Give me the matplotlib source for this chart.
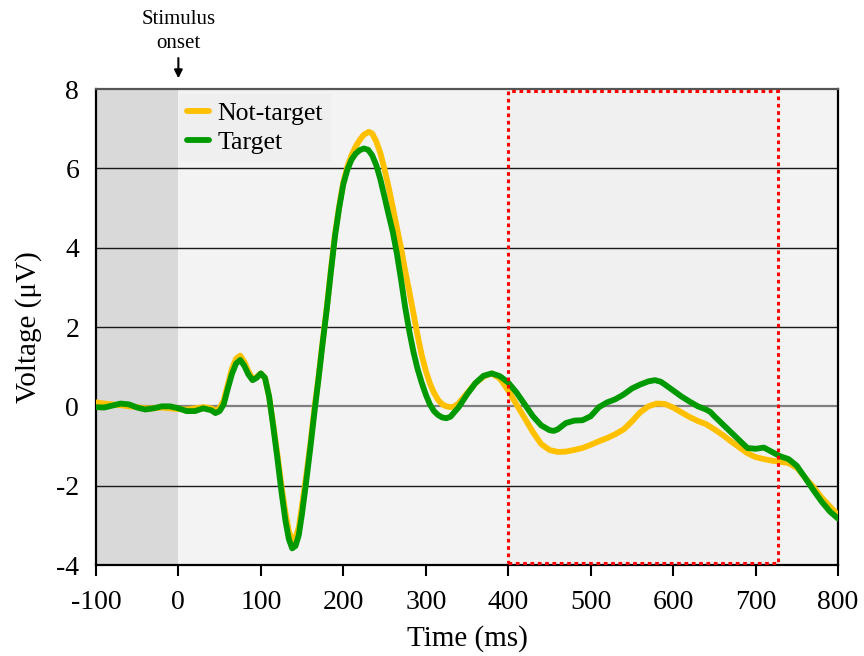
import matplotlib
matplotlib.use("Agg")
import matplotlib.pyplot as plt
from matplotlib.patches import Rectangle

plt.rcParams['font.family'] = ['Liberation Serif', 'DejaVu Serif']

# Target (green)
t_target = [-100, -90, -80, -70, -60, -50, -40, -30, -20, -10, 0, 10, 20, 30, 40, 45, 50, 55, 60, 65, 70, 75, 80, 85, 90, 95,
            100, 105, 110, 115, 120, 125, 130, 134, 138, 142, 146, 150, 155, 160, 165, 170, 175, 180, 185, 190, 195, 200,
            205, 210, 215, 220, 225, 230, 235, 240, 245, 250, 255, 260, 265, 270, 275, 280, 285, 290, 295, 300, 305, 310,
            315, 320, 325, 330, 340, 350, 360, 370, 380, 390, 400, 410, 420, 430, 440, 450, 455, 460, 470, 480, 490, 500,
            510, 520, 530, 540, 550, 560, 570, 578, 585, 590, 600, 610, 620, 630, 640, 645, 650, 660, 670, 680, 690, 700,
            710, 720, 730, 740, 750, 760, 770, 780, 790, 800]
v_target = [-0.02, -0.03, 0.02, 0.07, 0.05, -0.03, -0.08, -0.05, 0.0, 0.0, -0.05, -0.12, -0.12, -0.05, -0.1, -0.17, -0.12,
            0.05, 0.45, 0.82, 1.08, 1.17, 1.02, 0.8, 0.66, 0.72, 0.83, 0.72, 0.25, -0.5, -1.3, -2.15, -2.9, -3.35, -3.58,
            -3.52, -3.25, -2.7, -1.9, -1.05, -0.15, 0.7, 1.6, 2.45, 3.4, 4.3, 5.0, 5.6, 5.97, 6.22, 6.37, 6.46, 6.5, 6.47,
            6.33, 6.08, 5.72, 5.28, 4.83, 4.4, 3.85, 3.2, 2.5, 1.9, 1.38, 0.95, 0.6, 0.3, 0.05, -0.12, -0.22, -0.28, -0.3,
            -0.26, -0.02, 0.3, 0.58, 0.77, 0.83, 0.76, 0.6, 0.35, 0.05, -0.25, -0.48, -0.6, -0.62, -0.58, -0.42, -0.36,
            -0.35, -0.25, -0.02, 0.1, 0.18, 0.3, 0.45, 0.55, 0.63, 0.66, 0.62, 0.55, 0.4, 0.25, 0.12, 0.0, -0.08, -0.14,
            -0.25, -0.45, -0.65, -0.85, -1.05, -1.07, -1.04, -1.15, -1.26, -1.33, -1.5, -1.8, -2.11, -2.4, -2.65, -2.83]

# Not-target (yellow)
t_nontarget = [-100, -90, -80, -70, -60, -50, -40, -30, -20, -10, 0, 10, 20, 30, 40, 45, 50, 55, 60, 65, 70, 75, 80, 85, 90,
               95, 100, 105, 110, 115, 120, 125, 130, 134, 138, 142, 146, 150, 155, 160, 165, 170, 175, 180, 185, 190, 195,
               200, 205, 210, 215, 220, 225, 231, 235, 240, 245, 250, 255, 260, 265, 270, 275, 280, 285, 290, 295, 300, 305,
               310, 315, 320, 325, 330, 335, 340, 350, 360, 370, 380, 390, 400, 410, 420, 430, 440, 450, 460, 470, 480, 490,
               500, 510, 520, 530, 540, 550, 560, 570, 580, 590, 600, 610, 620, 630, 640, 650, 660, 670, 680, 690, 700, 710,
               720, 730, 740, 750, 760, 770, 780, 790, 800]
v_nontarget = [0.1, 0.07, 0.05, 0.03, 0.0, -0.02, -0.05, -0.05, -0.03, -0.05, -0.07, -0.08, -0.05, -0.02, -0.05, -0.1, -0.05,
               0.15, 0.55, 0.95, 1.2, 1.28, 1.12, 0.88, 0.7, 0.74, 0.83, 0.72, 0.25, -0.45, -1.2, -2.0, -2.7, -3.15, -3.38,
               -3.32, -3.05, -2.5, -1.75, -0.95, -0.05, 0.75, 1.65, 2.5, 3.45, 4.35, 5.05, 5.65, 6.05, 6.33, 6.55, 6.72, 6.85,
               6.92, 6.88, 6.68, 6.38, 5.98, 5.52, 5.02, 4.5, 4.0, 3.42, 2.9, 2.35, 1.8, 1.3, 0.9, 0.58, 0.34, 0.16, 0.05,
               0.0, -0.02, 0.0, 0.08, 0.33, 0.58, 0.75, 0.83, 0.7, 0.4, 0.05, -0.3, -0.65, -0.95, -1.1, -1.15, -1.14, -1.1,
               -1.05, -0.97, -0.88, -0.8, -0.7, -0.58, -0.38, -0.15, 0.0, 0.07, 0.06, -0.03, -0.15, -0.27, -0.37, -0.45,
               -0.58, -0.72, -0.88, -1.03, -1.18, -1.28, -1.33, -1.37, -1.4, -1.43, -1.55, -1.8, -2.03, -2.3, -2.52, -2.74]

x_ticks = [-100, 0, 100, 200, 300, 400, 500, 600, 700, 800]
y_ticks = [-4, -2, 0, 2, 4, 6, 8]
baseline_window = (-100, 0)
roi_window = (400, 727)
roi_volt = (-3.95, 7.95)

fig = plt.figure(figsize=(8.64, 6.56), dpi=100)
ax = fig.add_axes([0.111, 0.1387, 0.859, 0.7256])
ax.set_facecolor('#f3f3f3')
ax.set_xlim(-100, 800)
ax.set_ylim(-4, 8)

ax.axvspan(baseline_window[0], baseline_window[1], color='#d9d9d9', zorder=0, lw=0)
ax.add_patch(Rectangle((roi_window[0], roi_volt[0]), roi_window[1] - roi_window[0], roi_volt[1] - roi_volt[0],
                       facecolor='#f0f0f0', edgecolor='none', zorder=0.5))

for y in y_ticks:
    if y == 0:
        ax.axhline(y, color='#7f7f7f', lw=1.6, zorder=1)
    elif y in (-4, 8):
        continue
    else:
        ax.axhline(y, color='#1a1a1a', lw=1.0, zorder=1)

ax.add_patch(Rectangle((roi_window[0], roi_volt[0]), roi_window[1] - roi_window[0], roi_volt[1] - roi_volt[0],
                       facecolor='none', edgecolor='#ff0000', lw=2.2, linestyle=(0, (1.2, 1.2)), zorder=4))

ax.plot(t_nontarget, v_nontarget, color='#ffc000', lw=4.2, label='Not-target', zorder=3,
        solid_joinstyle='round', solid_capstyle='round')
ax.plot(t_target, v_target, color='#009900', lw=4.2, label='Target', zorder=3.5,
        solid_joinstyle='round', solid_capstyle='round')

ax.set_xticks(x_ticks)
ax.set_yticks(y_ticks)
ax.tick_params(axis='x', direction='out', length=8, width=1.5, labelsize=20, pad=10, colors='black')
ax.tick_params(axis='y', length=0, labelsize=20, pad=12)
ax.set_xticklabels([str(v) for v in x_ticks])
ax.set_yticklabels([str(v) for v in y_ticks])

for side in ['left', 'bottom', 'right']:
    ax.spines[side].set_color('black')
    ax.spines[side].set_linewidth(1.6)
ax.spines['top'].set_color('#555555')
ax.spines['top'].set_linewidth(1.6)

ax.set_xlabel('Time (ms)', fontsize=21, labelpad=7)
ax.set_ylabel('Voltage (\u03bcV)', fontsize=21, labelpad=10)

leg = ax.legend(loc='upper left', bbox_to_anchor=(0.105, 1.0), fontsize=18.5, frameon=True,
                facecolor='#efefef', edgecolor='none', framealpha=1, handlelength=0.85, handletextpad=0.35,
                borderpad=0.3, labelspacing=0.25, borderaxespad=0.2)
leg.get_frame().set_boxstyle('square', pad=0)

ax.annotate('', xy=(0, 8.2), xytext=(0, 8.85), xycoords='data', textcoords='data',
            arrowprops=dict(arrowstyle='-|>', color='black', lw=1.5, mutation_scale=12),
            annotation_clip=False)
ax.text(0, 8.92, 'Stimulus\nonset', ha='center', va='bottom', fontsize=15, linespacing=1.3, clip_on=False)

fig.savefig('out.png', dpi=100)
